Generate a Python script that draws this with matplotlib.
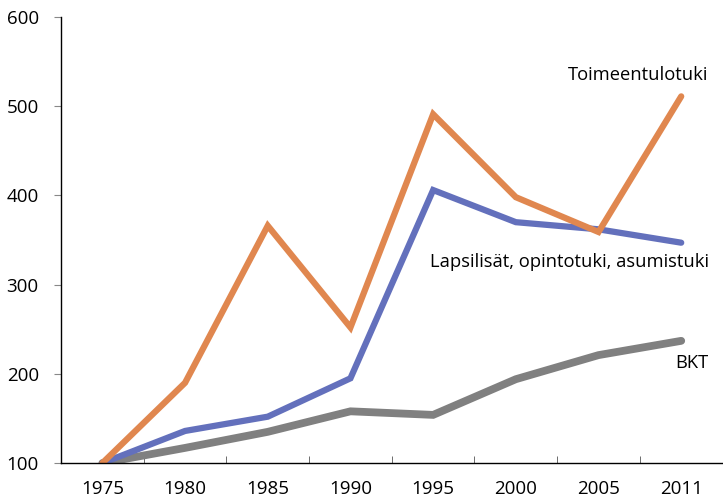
import numpy as np
import matplotlib
matplotlib.use('Agg')
import matplotlib.pyplot as plt
from matplotlib.ticker import FixedLocator

plt.rcParams['font.family'] = ['Open Sans', 'DejaVu Sans']

# Data (index, 1975 = 100)
years = ['1975', '1980', '1985', '1990', '1995', '2000', '2005', '2011']
toimeentulotuki = [100, 190, 366, 252, 491, 398, 359, 511]
lapsilisat = [100, 136, 152, 195, 406, 370, 362, 347]
bkt = [100, 117, 135, 158, 154, 194, 221, 237]

orange = '#E0874F'
blue = '#6370BC'
gray = '#808080'

fig = plt.figure(figsize=(7.23, 4.99), dpi=100)
ax = fig.add_axes([0.0844, 0.072, 0.915, 0.894])

x = np.arange(len(years))
ax.plot(x, bkt, color=gray, lw=5.6, solid_capstyle='round', solid_joinstyle='miter')
ax.plot(x, lapsilisat, color=blue, lw=4.5, solid_capstyle='round', solid_joinstyle='miter')
ax.plot(x, toimeentulotuki, color=orange, lw=4.5, solid_capstyle='round', solid_joinstyle='miter')

ax.set_xlim(-0.5, 7.5)
ax.set_ylim(100, 600)
ax.set_yticks([100, 200, 300, 400, 500, 600])
ax.set_xticks(x)
ax.set_xticklabels(years)
ax.xaxis.set_minor_locator(FixedLocator(x[:-1] + 0.5))

for s in ['top', 'right']:
    ax.spines[s].set_visible(False)
ax.spines['left'].set_linewidth(1.0)
ax.spines['bottom'].set_linewidth(1.0)

ax.tick_params(axis='x', which='major', length=0, pad=12, labelsize=13.5)
ax.tick_params(axis='x', which='minor', direction='in', length=5, color='#555555')
ax.tick_params(axis='y', which='major', direction='out', length=5, color='#888888',
               pad=11, labelsize=13.5)

fs = 13.2
ax.text(7.33, 535, 'Toimeentulotuki', ha='right', va='center', fontsize=fs)
ax.text(7.33, 325, 'Lapsilisät, opintotuki, asumistuki', ha='right', va='center', fontsize=fs)
ax.text(7.33, 212, 'BKT', ha='right', va='center', fontsize=fs)

fig.savefig('out.png', dpi=100)
